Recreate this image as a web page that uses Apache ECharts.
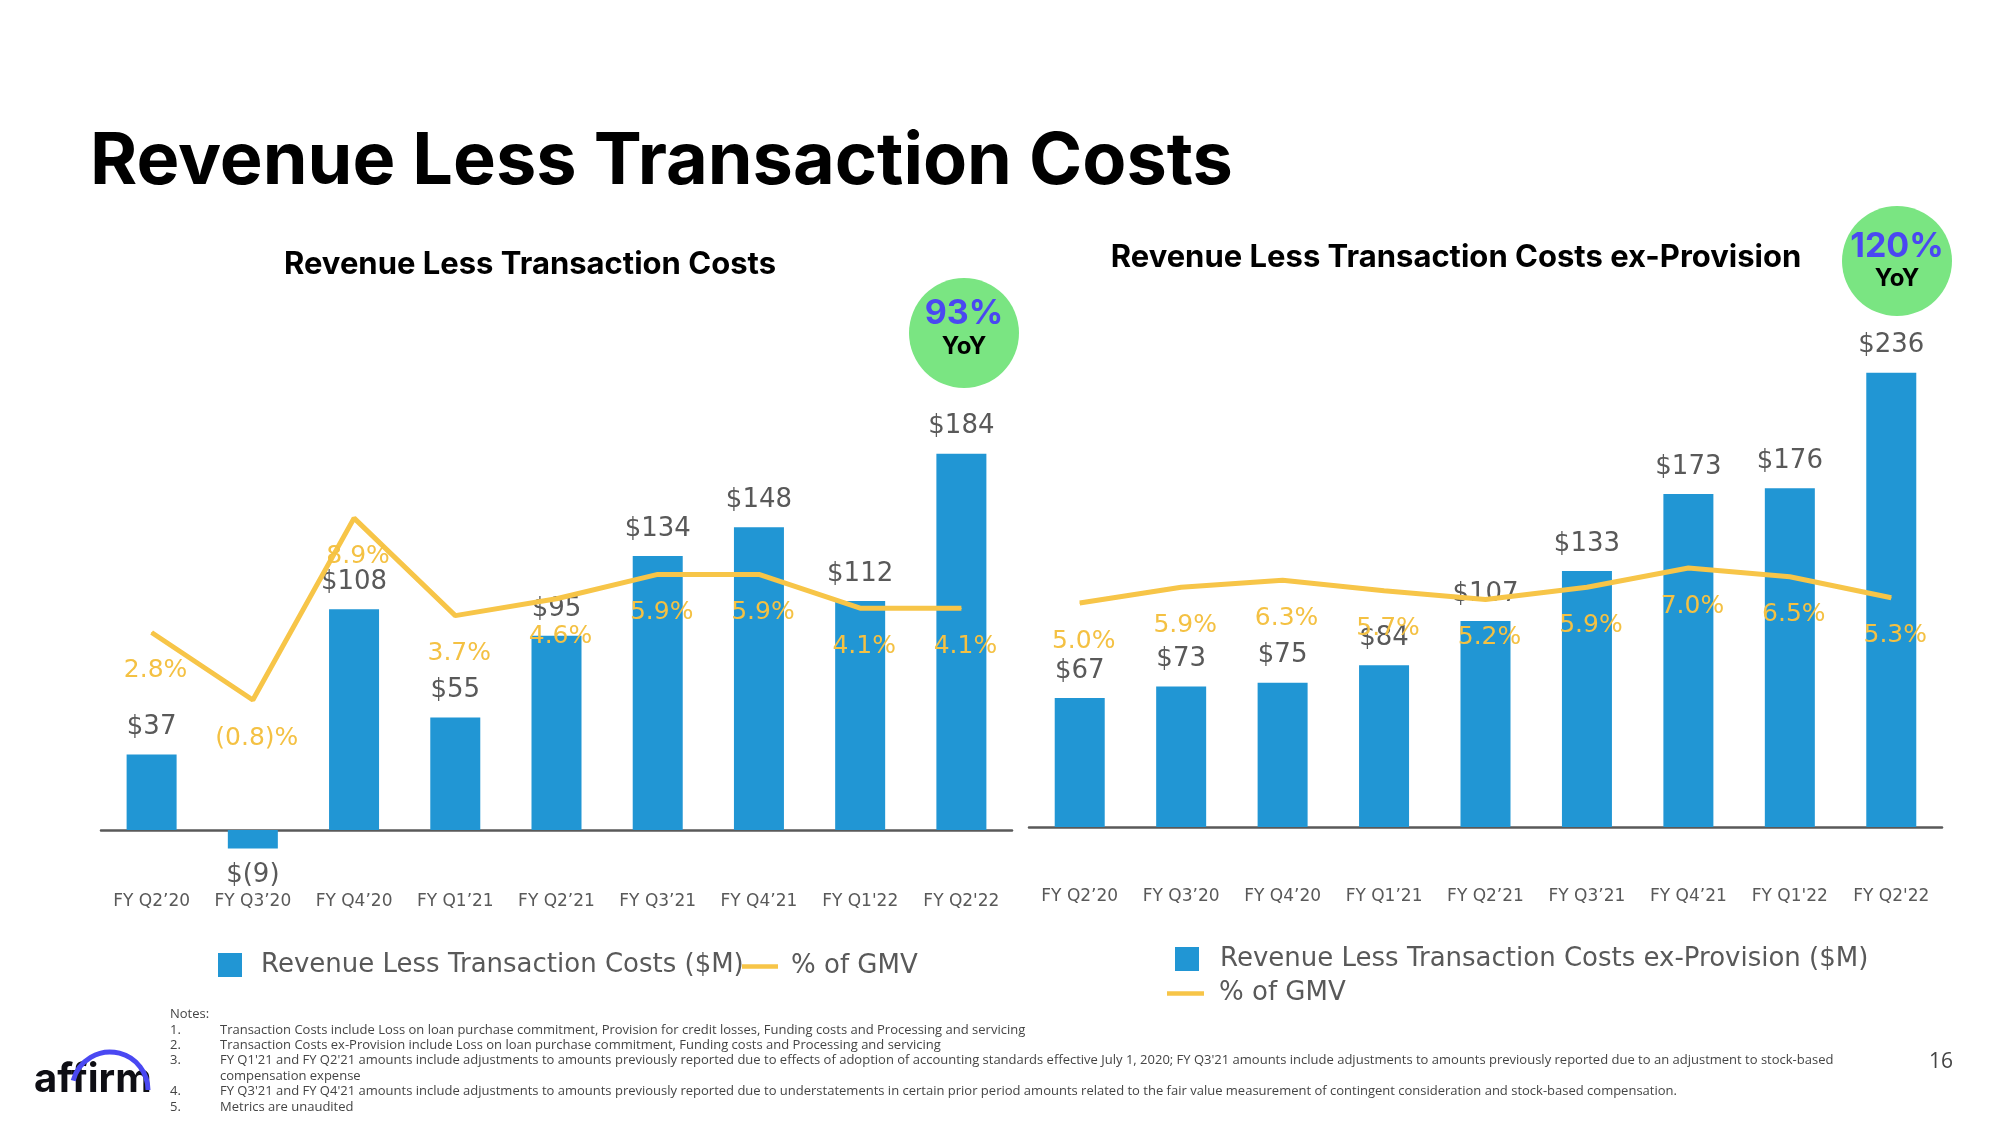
<!DOCTYPE html>
<html>
<head>
<meta charset="utf-8">
<script src="https://cdn.jsdelivr.net/npm/echarts@6/dist/echarts.min.js"></script>
<style>
html,body{margin:0;padding:0;background:#fff;}
#main{width:2000px;height:1125px;}
</style>
</head>
<body>
<div id="main"></div>
<script>
// ---- data ----
const categories = ['FY Q2\u201920','FY Q3\u201920','FY Q4\u201920','FY Q1\u201921','FY Q2\u201921','FY Q3\u201921','FY Q4\u201921',"FY Q1'22","FY Q2'22"];
const rltc = [37, -9, 108, 55, 95, 134, 148, 112, 184];
const rltcPctGmv = [2.8, -0.8, 8.9, 3.7, 4.6, 5.9, 5.9, 4.1, 4.1];
const rltcExProv = [67, 73, 75, 84, 107, 133, 173, 176, 236];
const rltcExProvPctGmv = [5.0, 5.9, 6.3, 5.7, 5.2, 5.9, 7.0, 6.5, 5.3];
const yoyLeft = '93%';
const yoyRight = '120%';
const notes = [
  'Transaction Costs include Loss on loan purchase commitment, Provision for credit losses, Funding costs and Processing and servicing',
  'Transaction Costs ex-Provision include Loss on loan purchase commitment, Funding costs and Processing and servicing',
  "FY Q1'21 and FY Q2'21 amounts include adjustments to amounts previously reported due to effects of adoption of accounting standards effective July 1, 2020; FY Q3'21 amounts include adjustments to amounts previously reported due to an adjustment to stock-based",
  "FY Q3'21 and FY Q4'21 amounts include adjustments to amounts previously reported due to understatements in certain prior period amounts related to the fair value measurement of contingent consideration and stock-based compensation.",
  'Metrics are unaudited'
];

const BAR = '#2196D4';
const LINE = '#F7C548';
const PCT = '#F4C143';
const GRAY = '#595959';
const DJ = 'DejaVu Sans';
const TF = 'Inter';

const fmtMoney = v => v < 0 ? '$(' + Math.abs(v) + ')' : '$' + v;
const fmtPct = v => v < 0 ? '(' + Math.abs(v).toFixed(1) + ')%' : v.toFixed(1) + '%';

const barLabel = {show:true, position:'top', distance:14, color:GRAY, fontFamily:DJ, fontSize:26,
  formatter: p => fmtMoney(p.value)};
const pctLabel = {show:true, position:'bottom', distance:25, offset:[4,0], color:PCT, fontFamily:DJ, fontSize:25,
  formatter: p => fmtPct(p.value)};

const chart = echarts.init(document.getElementById('main'), null, {renderer:'canvas'});

function xAx(grid, margin){
  return {type:'category', gridIndex:grid, data:categories,
    axisLine:{show:true, onZero:true, lineStyle:{color:GRAY, width:2.5}},
    axisTick:{show:false},
    axisLabel:{color:GRAY, fontFamily:DJ, fontSize:17, margin:margin, interval:0}};
}
function yAx(grid, min, max){
  return {type:'value', gridIndex:grid, min:min, max:max, show:false, splitLine:{show:false}};
}

const NF = '13px "Open Sans"';
const noteGraphics = [];
noteGraphics.push({type:'text', x:170, y:1014, style:{text:'Notes:', font:NF, fill:'#444', verticalAlign:'middle'}});
const noteRows = [1030, 1045, 1060, 1091, 1107];
notes.forEach((t,i)=>{
  noteGraphics.push({type:'text', x:170, y:noteRows[i], style:{text:(i+1)+'.', font:NF, fill:'#444', verticalAlign:'middle'}});
  noteGraphics.push({type:'text', x:220, y:noteRows[i], style:{text:t, font:NF, fill:'#444', verticalAlign:'middle'}});
});
noteGraphics.push({type:'text', x:220, y:1076, style:{text:'compensation expense', font:NF, fill:'#444', verticalAlign:'middle'}});

const option = {
  animation:false,
  backgroundColor:'#fff',
  grid:[
    {left:101, width:911, top:421, height:450},
    {left:1029, width:913, top:345.75, height:481.25}
  ],
  xAxis:[xAx(0, 22), xAx(1, 61)],
  yAxis:[
    yAx(0, -20, 200), yAx(0, -9.92, 14.08),
    yAx(1, 0, 250), yAx(1, -7.8, 19.7)
  ],
  legend:[
    {data:['Revenue Less Transaction Costs ($M)'], left:218, top:952, padding:0, selectedMode:false,
      itemWidth:24, itemHeight:24, icon:'rect', textStyle:{color:GRAY, fontFamily:DJ, fontSize:26, padding:[0,0,0,14]}},
    {data:[{name:'% of GMV', icon:'rect'}], left:742, top:953.5, padding:0, selectedMode:false,
      itemWidth:36, itemHeight:4.5, textStyle:{color:GRAY, fontFamily:DJ, fontSize:26, padding:[0,0,0,8]}},
    {data:['Revenue Less Transaction Costs ex-Provision ($M)'], left:1175, top:946, padding:0, selectedMode:false,
      itemWidth:24, itemHeight:24, icon:'rect', textStyle:{color:GRAY, fontFamily:DJ, fontSize:26, padding:[0,0,0,16]}},
    {data:[{name:'% of GMV', icon:'rect'}], left:1167, top:980.5, padding:0, selectedMode:false,
      itemWidth:37, itemHeight:4.5, textStyle:{color:GRAY, fontFamily:DJ, fontSize:26, padding:[0,0,0,10]}}
  ],
  series:[
    {name:'Revenue Less Transaction Costs ($M)', type:'bar', xAxisIndex:0, yAxisIndex:0, barWidth:50,
      itemStyle:{color:BAR}, label:barLabel,
      data: rltc.map(v => v < 0 ? {value:v, label:{position:'bottom'}} : v), z:2},
    {name:'% of GMV', type:'line', xAxisIndex:0, yAxisIndex:1, data:rltcPctGmv,
      symbol:'circle', symbolSize:1, itemStyle:{color:LINE}, lineStyle:{color:LINE, width:5},
      label:pctLabel, z:3},
    {name:'Revenue Less Transaction Costs ex-Provision ($M)', type:'bar', xAxisIndex:1, yAxisIndex:2, barWidth:50,
      itemStyle:{color:BAR}, label:barLabel, data: rltcExProv, z:2},
    {name:'% of GMV', type:'line', xAxisIndex:1, yAxisIndex:3, data:rltcExProvPctGmv,
      symbol:'circle', symbolSize:1, itemStyle:{color:LINE}, lineStyle:{color:LINE, width:5},
      label:pctLabel, z:3}
  ],
  graphic:[
    {type:'text', x:90, y:162, style:{text:'Revenue Less Transaction Costs', font:'bold 72px '+TF, fill:'#000', verticalAlign:'middle'}},
    {type:'text', x:530, y:265, style:{text:'Revenue Less Transaction Costs', font:'bold 31px '+TF, fill:'#000', align:'center', verticalAlign:'middle'}},
    {type:'text', x:1456, y:258, style:{text:'Revenue Less Transaction Costs ex-Provision', font:'bold 31px '+TF, fill:'#000', align:'center', verticalAlign:'middle'}},
    {type:'circle', shape:{cx:964, cy:333, r:55}, style:{fill:'#7AE582'}},
    {type:'text', x:964, y:314, style:{text:yoyLeft, font:'bold 34px '+TF, fill:'#4A48F2', align:'center', verticalAlign:'middle'}},
    {type:'text', x:964, y:347, style:{text:'YoY', font:'bold 24px '+TF, fill:'#000', align:'center', verticalAlign:'middle'}},
    {type:'circle', shape:{cx:1897, cy:261, r:55}, style:{fill:'#7AE582'}},
    {type:'text', x:1897, y:247, style:{text:yoyRight, font:'bold 34px '+TF, fill:'#4A48F2', align:'center', verticalAlign:'middle'}},
    {type:'text', x:1897, y:279, style:{text:'YoY', font:'bold 24px '+TF, fill:'#000', align:'center', verticalAlign:'middle'}},
    {type:'text', x:34, y:1080, style:{text:'affirm', font:'bold 40px '+TF, fill:'#0E0E14', verticalAlign:'middle'}},
    {type:'arc', shape:{cx:110, cy:1090, r:38, startAngle:Math.PI*1.08, endAngle:Math.PI*2, clockwise:true}, style:{stroke:'#4A48F2', lineWidth:5, fill:'none'}},
    {type:'text', x:1941, y:1062, style:{text:'16', font:'21px "Open Sans"', fill:'#444', align:'center', verticalAlign:'middle'}}
  ].concat(noteGraphics)
};
chart.setOption(option);
</script>
</body>
</html>
